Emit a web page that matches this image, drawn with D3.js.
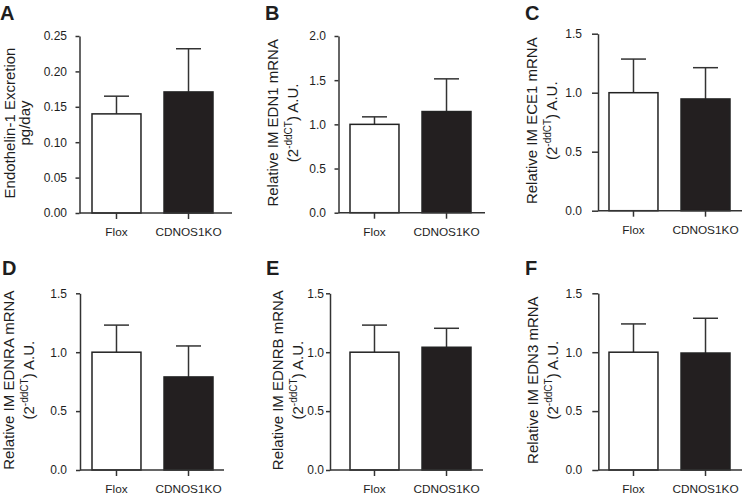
<!DOCTYPE html>
<html>
<head>
<meta charset="utf-8">
<script src="https://cdn.jsdelivr.net/npm/d3@7"></script>
<style>
  html, body { margin: 0; padding: 0; background: #fff; }
  svg { display: block; }
  text { font-family: "Liberation Sans", Arial, sans-serif; fill: #1e1e1e; }
</style>
</head>
<body>
<svg id="chart" width="742" height="495"></svg>
<script>
// ---------- data ----------
const categories = ["Flox", "CDNOS1KO"];
const panelLetters = ["A", "B", "C", "D", "E", "F"];
const yLabelLine1 = [
  "Endothelin-1 Excretion",
  "Relative IM EDN1 mRNA",
  "Relative IM ECE1 mRNA",
  "Relative IM EDNRA mRNA",
  "Relative IM EDNRB mRNA",
  "Relative IM EDN3 mRNA"
];
const floxMean = [0.140, 1.00, 1.00, 1.00, 1.00, 1.00];
const floxSem  = [0.025, 0.085, 0.285, 0.23, 0.23, 0.24];
const koMean   = [0.171, 1.145, 0.947, 0.79, 1.042, 0.993];
const koSem    = [0.061, 0.37, 0.265, 0.263, 0.161, 0.295];
const yTicksA  = [0, 0.05, 0.10, 0.15, 0.20, 0.25];
const yTicksB  = [0, 0.5, 1.0, 1.5, 2.0];
const yTicksRest = [0, 0.5, 1.0, 1.5];
const panelTicks = [yTicksA, yTicksB, yTicksRest, yTicksRest, yTicksRest, yTicksRest];
const tickFormats = [".2f", ".1f", ".1f", ".1f", ".1f", ".1f"];

// ---------- layout ----------
const layout = [
  {ax: 79.5, top: 36,   bot: 213,   xEnd: 232, barL: 92,  lab1: 15,  lab2: 30,  letX: 0,   letY: 20,  tk: 4, pad: 8.5},
  {ax: 338.5, top: 36,  bot: 212.7, xEnd: 485, barL: 350, lab1: 278, lab2: 298, letX: 265, letY: 20,  tk: 4, pad: 8.5},
  {ax: 598, top: 33.7,  bot: 210.7, xEnd: 745, barL: 609, lab1: 537, lab2: 557, letX: 525, letY: 20,  tk: 6, pad: 10},
  {ax: 80, top: 293.3,  bot: 470,   xEnd: 224, barL: 92,  lab1: 14,  lab2: 34,  letX: 2,   letY: 275, tk: 4, pad: 9},
  {ax: 330, top: 293.3, bot: 470,   xEnd: 483, barL: 350, lab1: 283, lab2: 303, letX: 266, letY: 275, tk: 4, pad: 2},
  {ax: 598.3, top: 293.3, bot: 470, xEnd: 745, barL: 609, lab1: 538, lab2: 558, letX: 525, letY: 275, tk: 6, pad: 10}
];

const svg = d3.select("#chart");
const stroke = "#333";
const barFill = ["#ffffff", "#231f20"];
const sw = 1.5;

layout.forEach((L, i) => {
  const g = svg.append("g");
  const ticks = panelTicks[i];
  const y = d3.scaleLinear().domain([0, ticks[ticks.length - 1]]).range([L.bot, L.top]);
  const x = d3.scaleBand().domain(categories).range([L.barL, L.barL + 121]).paddingInner(0.32).paddingOuter(0);

  const vals = [
    {cat: categories[0], mean: floxMean[i], sem: floxSem[i], k: 0},
    {cat: categories[1], mean: koMean[i], sem: koSem[i], k: 1}
  ];

  // error bars (upper only)
  const capW = 25;
  vals.forEach(v => {
    const cx = x(v.cat) + x.bandwidth() / 2;
    g.append("line").attr("x1", cx).attr("x2", cx)
      .attr("y1", y(v.mean)).attr("y2", y(v.mean + v.sem))
      .attr("stroke", stroke).attr("stroke-width", sw);
    g.append("line").attr("x1", cx - capW / 2).attr("x2", cx + capW / 2)
      .attr("y1", y(v.mean + v.sem)).attr("y2", y(v.mean + v.sem))
      .attr("stroke", stroke).attr("stroke-width", sw);
  });

  // bars
  g.selectAll("rect.bar").data(vals).enter().append("rect")
    .attr("class", "bar")
    .attr("x", d => x(d.cat))
    .attr("width", x.bandwidth())
    .attr("y", d => y(d.mean))
    .attr("height", d => y(0) - y(d.mean))
    .attr("fill", d => barFill[d.k])
    .attr("stroke", "#222")
    .attr("stroke-width", sw);

  // y axis
  const yAxis = d3.axisLeft(y).tickValues(ticks).tickFormat(d3.format(tickFormats[i]))
    .tickSize(L.tk).tickPadding(L.pad).tickSizeOuter(0);
  const ya = g.append("g").attr("transform", `translate(${L.ax},0)`).call(yAxis);
  ya.select(".domain").attr("stroke", stroke).attr("stroke-width", sw);
  ya.selectAll(".tick line").attr("stroke", stroke).attr("stroke-width", sw);
  ya.selectAll(".tick text").attr("font-size", "12px")
    .attr("font-family", "Liberation Sans, Arial, sans-serif").attr("fill", "#1e1e1e");

  // x axis line
  g.append("line").attr("x1", L.ax).attr("x2", L.xEnd)
    .attr("y1", L.bot).attr("y2", L.bot)
    .attr("stroke", stroke).attr("stroke-width", sw);

  // category ticks and labels
  categories.forEach(c => {
    const cx = x(c) + x.bandwidth() / 2;
    g.append("line").attr("x1", cx).attr("x2", cx)
      .attr("y1", L.bot).attr("y2", L.bot + 6)
      .attr("stroke", stroke).attr("stroke-width", sw);
    g.append("text").attr("x", cx).attr("y", L.bot + 23)
      .attr("text-anchor", "middle").attr("font-size", "11.8px").text(c);
  });

  // y label
  const cy = (L.top + L.bot) / 2 - 1.5;
  g.append("text")
    .attr("transform", `translate(${L.lab1},${cy}) rotate(-90)`)
    .attr("text-anchor", "middle").attr("font-size", "15px")
    .text(yLabelLine1[i]);
  const t2 = g.append("text")
    .attr("transform", `translate(${L.lab2},${cy}) rotate(-90)`)
    .attr("text-anchor", "middle").attr("font-size", "15px");
  if (i === 0) {
    t2.text("pg/day");
  } else {
    t2.append("tspan").text("(2");
    t2.append("tspan").attr("dy", -6).attr("font-size", "10px").text("-ddCT");
    t2.append("tspan").attr("dy", 6).text(") A.U.");
  }

  // panel letter
  g.append("text").attr("x", L.letX).attr("y", L.letY)
    .attr("font-size", "20px").attr("font-weight", "bold").attr("fill", "#111")
    .text(panelLetters[i]);
});
</script>
</body>
</html>
